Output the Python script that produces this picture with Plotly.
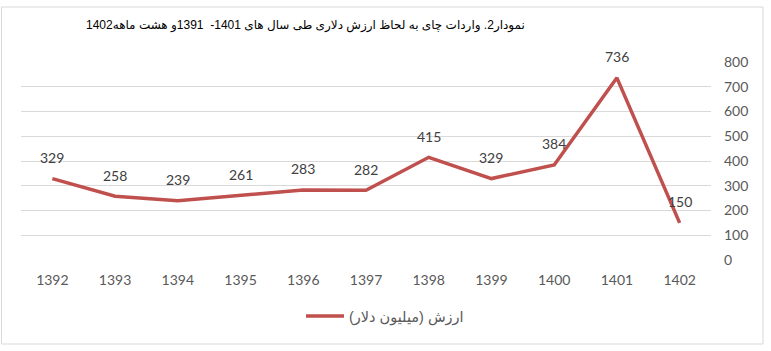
import plotly.graph_objects as go

years = ["1392", "1393", "1394", "1395", "1396", "1397", "1398", "1399", "1400", "1401", "1402"]
values = [329, 258, 239, 261, 283, 282, 415, 329, 384, 736, 150]
series_name = "ارزش (میلیون دلار)"
title_text = "نمودار2. واردات چای به لحاظ ارزش دلاری طی سال های 1401-  1391و هشت ماهه1402"
y_ticks = [0, 100, 200, 300, 400, 500, 600, 700, 800]

W, H = 771, 351
ml, mr, mt, mb = 21, 60, 62, 91
pw, ph = W - ml - mr, H - mt - mb

fig = go.Figure()
fig.add_trace(go.Scatter(
    x=years, y=values, mode="lines", name=series_name,
    line=dict(color="#C0504D", width=3.5),
))
for i, v in enumerate(values):
    fig.add_annotation(x=i, y=v, text=str(v), showarrow=False, yshift=21,
                       font=dict(family="Lato, Calibri, sans-serif", size=14, color="#404040"))

fig.add_annotation(xref="paper", yref="paper", x=(527 - ml) / pw, y=(H - mb - 25) / ph,
                   xanchor="right", yanchor="middle", showarrow=False, text=title_text,
                   font=dict(family="Arial, DejaVu Sans, sans-serif", size=12, color="#000000"))

fig.add_shape(type="rect", xref="paper", yref="paper",
              x0=(1.5 - ml) / pw, x1=(763 - ml) / pw,
              y0=(H - mb - 344) / ph, y1=(H - mb - 7) / ph,
              line=dict(color="#D9D9D9", width=1), layer="below")

fig.update_layout(
    width=W, height=H, margin=dict(l=ml, r=mr, t=mt, b=mb),
    paper_bgcolor="white", plot_bgcolor="white",
    showlegend=True,
    legend=dict(orientation="h", x=0.5 + 19 / pw, xanchor="center", y=(H - mb - 316) / ph,
                yanchor="middle", itemwidth=38,
                font=dict(family="Arial, DejaVu Sans, sans-serif", size=14.5, color="#595959")),
    xaxis=dict(type="category", range=[-0.5, len(years) - 0.5], showgrid=False, showline=False,
               zeroline=False, ticks="",
               tickfont=dict(family="Lato, Calibri, sans-serif", size=14, color="#595959"),
               ticklabelstandoff=10),
    yaxis=dict(side="right", range=[0, 800], tickvals=y_ticks, showgrid=True, gridcolor="#D9D9D9",
               gridwidth=1, zeroline=False, showline=False, ticks="",
               tickfont=dict(family="Lato, Calibri, sans-serif", size=14, color="#595959"),
               ticklabelstandoff=12),
)
fig.write_html("out.html")
